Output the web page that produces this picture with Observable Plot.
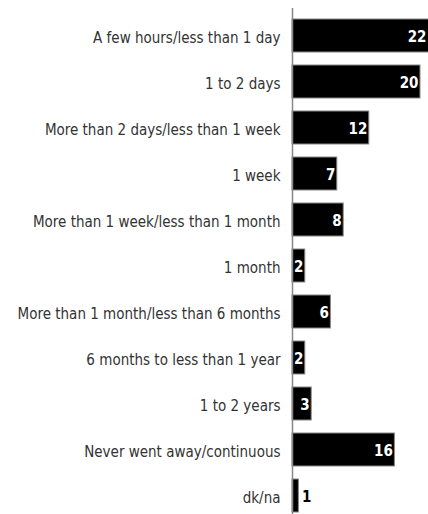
<!DOCTYPE html>
<html><head><meta charset="utf-8">
<script src="https://cdn.jsdelivr.net/npm/d3@7"></script>
<script src="https://cdn.jsdelivr.net/npm/@observablehq/plot@0.6"></script>
<style>
html,body{margin:0;padding:0;background:#fff;}
svg{font-family:"DejaVu Sans Condensed","Liberation Sans Narrow",sans-serif;}
</style>
</head><body>
<div id="chart"></div>
<script>
const categories = [
  "A few hours/less than 1 day",
  "1 to 2 days",
  "More than 2 days/less than 1 week",
  "1 week",
  "More than 1 week/less than 1 month",
  "1 month",
  "More than 1 month/less than 6 months",
  "6 months to less than 1 year",
  "1 to 2 years",
  "Never went away/continuous",
  "dk/na"
];
const values = [22, 20, 12, 7, 8, 2, 6, 2, 3, 16, 1];
const data = categories.map((c, i) => ({category: c, value: values[i]}));
const xMax = 21.25;

const chart = Plot.plot({
  width: 428,
  height: 514,
  marginLeft: 292,
  marginRight: 0,
  marginTop: 8,
  marginBottom: 0,
  style: {fontSize: "15px", background: "#fff", overflow: "hidden"},
  x: {domain: [0, xMax], axis: null},
  y: {domain: categories, range: [1.3, 528.7], padding: 0.293, label: null},
  marks: [
    Plot.barX(data, {x: "value", y: "category", fill: "#000", stroke: "#888", strokeWidth: 1}),
    Plot.ruleX([0], {stroke: "#888", strokeWidth: 1.5}),
    Plot.text(data.filter(d => d.value >= 2), {x: d => Math.min(d.value, xMax), y: "category", text: d => String(d.value), textAnchor: "end", dx: -2, dy: 1, fill: "#fff", fontWeight: "bold", fontSize: 15}),
    Plot.text(data.filter(d => d.value < 2), {x: "value", y: "category", text: d => String(d.value), textAnchor: "start", dx: 3, dy: 1, fill: "#000", fontWeight: "bold", fontSize: 15}),
    Plot.axisY({tickSize: 0, tickPadding: 12, fontSize: 15, dy: 2, color: "#333", label: null})
  ]
});
document.getElementById("chart").appendChild(chart);
</script>
</body></html>
